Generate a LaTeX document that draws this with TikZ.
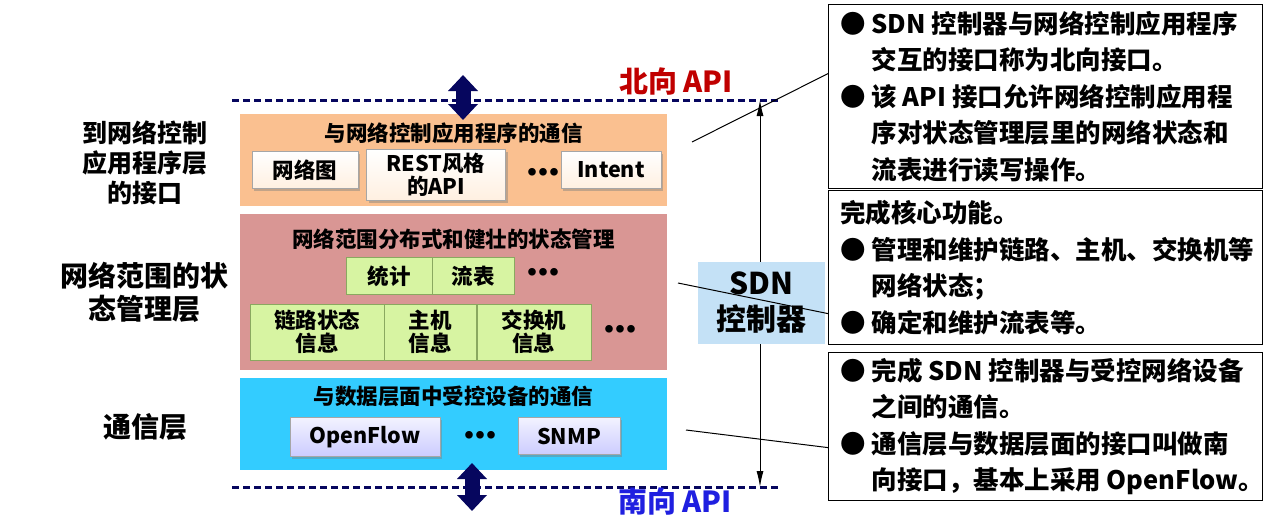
\documentclass[tikz,border=0pt]{standalone}
\usepackage{fontspec}
\setmainfont{Noto Sans CJK SC}
\usepackage{tikz}
\usetikzlibrary{positioning, arrows.meta, shadows}

\definecolor{apporange}{HTML}{FAC090}
\definecolor{staterose}{HTML}{D99694}
\definecolor{commcyan}{HTML}{33CCFF}
\definecolor{ctrlblue}{HTML}{C4E1F6}
\definecolor{apinavy}{HTML}{06065E}
\definecolor{northred}{HTML}{C00000}
\definecolor{southblue}{HTML}{1F1FE0}
\definecolor{itemline}{HTML}{A6A6A6}
\definecolor{greenfill}{HTML}{D7F4A2}
\definecolor{greenline}{HTML}{8AA860}

\newcommand{\noteind}{\hphantom{●\ }}
\newcommand{\threedots}{●\hspace{2.5pt}●\hspace{2.5pt}●}

\tikzstyle{layer} = [rectangle, anchor=north west, inner sep=0pt]
\tikzstyle{layertitle} = [inner sep=0pt, font=\bfseries\fontsize{21.5}{26}\selectfont]
\tikzstyle{creambox} = [rectangle, draw=itemline, top color=white, bottom color=orange!12, drop shadow={shadow xshift=2pt, shadow yshift=-2pt, opacity=0.45}, inner sep=0pt, align=center, font=\bfseries\fontsize{21.5}{23}\selectfont]
\tikzstyle{greenbox} = [rectangle, draw=greenline, fill=greenfill, inner sep=0pt, align=center, font=\bfseries\fontsize{21.5}{23}\selectfont]
\tikzstyle{protobox} = [rectangle, draw=itemline, top color=blue!5, bottom color=blue!20, drop shadow={shadow xshift=2pt, shadow yshift=-2pt, opacity=0.45}, inner sep=0pt, align=center, font=\bfseries\fontsize{21.5}{23}\selectfont]
\tikzstyle{dotsnode} = [inner sep=0pt, font=\bfseries\fontsize{8.5}{10}\selectfont]
\tikzstyle{sidelabel} = [align=center, inner sep=0pt]
\tikzstyle{notebox} = [rectangle, draw=black, line width=1.2pt, fill=white, anchor=north west, minimum width=434pt]
\tikzstyle{notetext} = [inner sep=0pt, align=left, font=\bfseries\fontsize{25.5}{36.5}\selectfont]
\tikzstyle{apiline} = [draw=apinavy, line width=3pt, dash pattern=on 7pt off 4pt]
\tikzstyle{blockarrow} = [draw=apinavy, line width=15pt, {Triangle[length=16pt,width=29pt]}-{Triangle[length=16pt,width=29pt]}]
\tikzstyle{span} = [draw=black, line width=1pt, {Latex[length=16pt,width=7pt]}-{Latex[length=16pt,width=7pt]}]
\tikzstyle{pointer} = [draw=black, line width=1pt]

\begin{document}
\begin{tikzpicture}[x=1pt, y=-1pt]
\useasboundingbox (0,0) rectangle (1269,522);

% the three layers
\node (applayer) [layer, fill=apporange, minimum width=427pt, minimum height=92pt] at (240,114) {};
\node (statelayer) [layer, fill=staterose, minimum width=427pt, minimum height=156pt] at (240,214) {};
\node (commlayer) [layer, fill=commcyan, minimum width=427pt, minimum height=92pt] at (240,378) {};

\node (apptitle) [layertitle, below=9pt of applayer.north] {与网络控制应用程序的通信};
\node (statetitle) [layertitle, below=15pt of statelayer.north] {网络范围分布式和健壮的状态管理};
\node (commtitle) [layertitle, below=8pt of commlayer.north] {与数据层面中受控设备的通信};

% application interface items
\node (netgraph) [creambox, minimum width=106pt, minimum height=37pt] at (305,170) {网络图};
\node (restapi) [creambox, minimum width=139pt, minimum height=51pt] at (436,175) {REST风格\\的API};
\node (appdots) [dotsnode] at (543,172) {\threedots};
\node (intent) [creambox, minimum width=100pt, minimum height=37pt] at (611,170) {Intent};

% state management items
\node (stats) [greenbox, minimum width=86pt, minimum height=37pt] at (389,276) {统计};
\node (flowtbl) [greenbox, minimum width=82pt, minimum height=37pt, right=0pt of stats] {流表};
\node (statedots) [dotsnode] at (543,272) {\threedots};
\node (linkinfo) [greenbox, minimum width=134pt, minimum height=56pt] at (317,332) {链路状态\\信息};
\node (hostinfo) [greenbox, minimum width=92pt, minimum height=56pt, right=0pt of linkinfo] {主机\\信息};
\node (switchinfo) [greenbox, minimum width=114pt, minimum height=56pt, right=0pt of hostinfo] {交换机\\信息};
\node (infodots) [dotsnode] at (620,329) {\threedots};

% communication items
\node (openflow) [protobox, minimum width=150pt, minimum height=39pt] at (365,437) {OpenFlow};
\node (commdots) [dotsnode] at (480,435) {\threedots};
\node (snmp) [protobox, minimum width=102pt, minimum height=37pt] at (569,436) {SNMP};

% layer names on the left
\node (applabel) [sidelabel, font=\bfseries\fontsize{25}{30}\selectfont] at (145,163) {到网络控制\\应用程序层\\的接口};
\node (statelabel) [sidelabel, font=\bfseries\fontsize{28}{33}\selectfont] at (144,292) {网络范围的状\\态管理层};
\node (commlabel) [sidelabel, font=\bfseries\fontsize{28}{33}\selectfont] at (145,427) {通信层};

% northbound and southbound interfaces
\coordinate (northwest) at (232,100);
\coordinate (northeast) at (778,100);
\coordinate (southwest) at (232,487);
\coordinate (southeast) at (778,487);
\draw [apiline] (northwest) -- (northeast);
\draw [apiline] (southwest) -- (southeast);
\node (northapi) [inner sep=0pt, text=northred, font=\bfseries\fontsize{29}{32}\selectfont] at (676,82) {北向 API};
\node (southapi) [inner sep=0pt, text=southblue, font=\bfseries\fontsize{29}{32}\selectfont] at (675,502) {南向 API};

\coordinate (northup) at (463,75);
\coordinate (northdown) at (463,120);
\coordinate (southup) at (472,463);
\coordinate (southdown) at (472,511);
\draw [blockarrow] (northup) -- (northdown);
\draw [blockarrow] (southup) -- (southdown);

% controller
\coordinate (spantop) at (760,100);
\coordinate (spanbottom) at (760,487);
\draw [span] (spantop) -- (spanbottom);
\node (controller) [rectangle, fill=ctrlblue, minimum width=127pt, minimum height=82pt, align=center, inner sep=0pt, font=\bfseries\fontsize{30}{36}\selectfont] at (761.5,303) {SDN\\控制器};

% notes
\node (note1) [notebox, minimum height=184pt] at (828,4) {};
\node (note1text) [notetext, right=12pt of note1.west] {● SDN 控制器与网络控制应用程序\\\noteind 交互的接口称为北向接口。\\● 该 API 接口允许网络控制应用程\\\noteind 序对状态管理层里的网络状态和\\\noteind 流表进行读写操作。};
\node (note2) [notebox, minimum height=154pt] at (828,190) {};
\node (note2text) [notetext, right=12pt of note2.west] {完成核心功能。\\● 管理和维护链路、主机、交换机等\\\noteind 网络状态；\\● 确定和维护流表等。};
\node (note3) [notebox, minimum height=148pt] at (828,352) {};
\node (note3text) [notetext, right=12pt of note3.west] {● 完成 SDN 控制器与受控网络设备\\\noteind 之间的通信。\\● 通信层与数据层面的接口叫做南\\\noteind 向接口，基本上采用 OpenFlow。};

\coordinate (appspot) at (692,142);
\coordinate (statespot) at (678,283);
\coordinate (commspot) at (686,430);
\draw [pointer] (appspot) -- ([yshift=23pt]note1.west);
\draw [pointer] (statespot) -- ([yshift=-46pt]note2.west);
\draw [pointer] (commspot) -- ([yshift=-21pt]note3.west);
\end{tikzpicture}
\end{document}
